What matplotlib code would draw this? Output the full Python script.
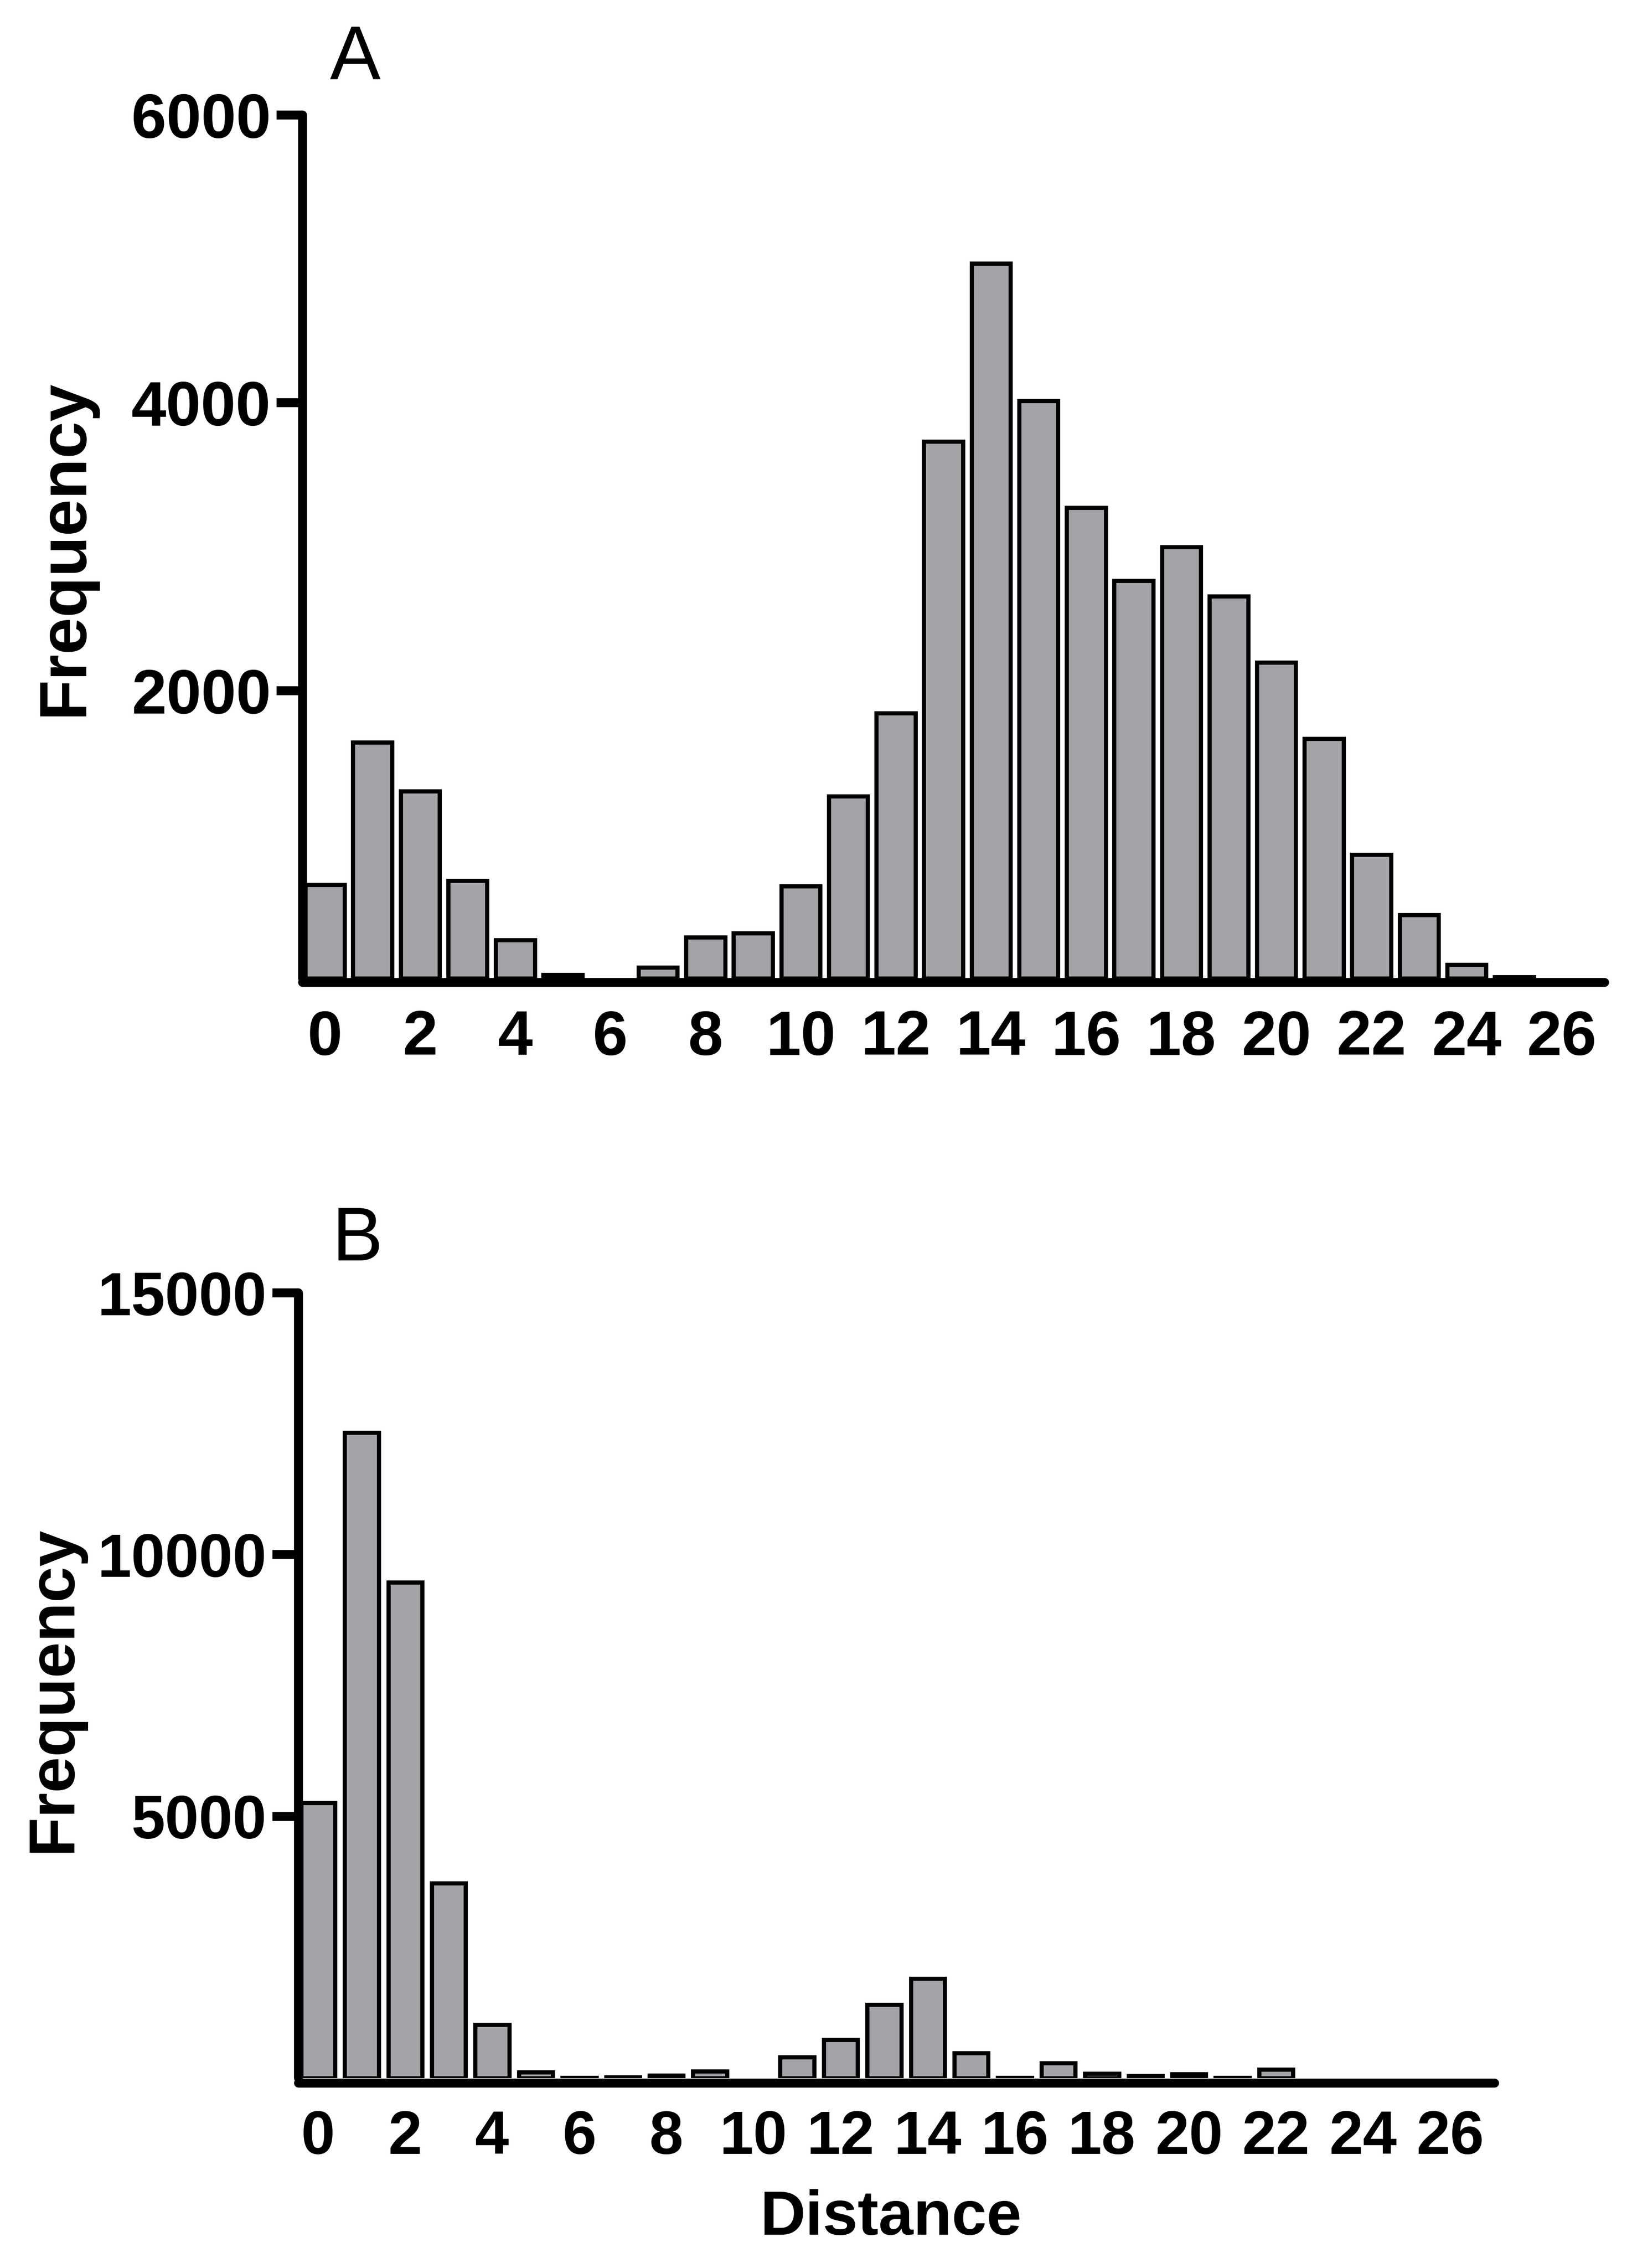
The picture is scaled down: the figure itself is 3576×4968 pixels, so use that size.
import numpy as np
import matplotlib
matplotlib.use('Agg')
import matplotlib.pyplot as plt

plt.rcParams['font.family'] = ['Liberation Sans', 'DejaVu Sans']

# distance bins 0..26
distance = list(range(27))
xticks = list(range(0, 27, 2))

# panel A frequencies
freq_a = [650, 1640, 1300, 680, 265, 25, 0, 75, 285, 315, 640, 1265, 1845,
          3730, 4970, 4015, 3270, 2765, 3000, 2655, 2195, 1665, 860, 440,
          95, 10, 0]
# panel B frequencies
freq_b = [5260, 12330, 9470, 3720, 1020, 110, 5, 20, 55, 130, 0, 400, 730,
          1400, 1900, 480, 10, 285, 85, 45, 80, 5, 165, 0, 0, 0, 0]

bar_color = '#a3a3a8'
W, H = 3576, 4968
fig = plt.figure(figsize=(W / 300, H / 300), dpi=300)


def frac_x(px):
    return px / W


def frac_y(py):
    return 1 - py / H


def draw_bars(ax, freq, width):
    # empty bins get no bar at all
    xs = [d for d, f in zip(distance, freq) if f > 0]
    ys = [f for f in freq if f > 0]
    ax.bar(xs, ys, width=width, color=bar_color, edgecolor='black', linewidth=2.2)


def style_axes(ax, ymax, yticks, xlim, fsize, offset):
    for s in ['top', 'right']:
        ax.spines[s].set_visible(False)
    for s in ['left', 'bottom']:
        ax.spines[s].set_linewidth(4.7)
        ax.spines[s].set_capstyle('round')
    ax.spines['bottom'].set_position(('outward', offset))
    ax.set_xlim(*xlim)
    ax.set_ylim(0, ymax)
    ax.set_yticks(yticks)
    ax.set_xticks(xticks)
    ax.tick_params(axis='y', length=13.7, width=4.7, pad=3, labelsize=fsize)
    ax.tick_params(axis='x', length=0, pad=14, labelsize=fsize)
    for lab in ax.get_xticklabels() + ax.get_yticklabels():
        lab.set_fontweight('bold')


# panel A
axA = fig.add_axes([frac_x(663), frac_y(2143), frac_x(3516 - 663), (2143 - 252) / H])
draw_bars(axA, freq_a, 0.82)
style_axes(axA, 6000, [2000, 4000, 6000], (-0.47, 26.9), 33, 2.2)
fig.text(frac_x(142), frac_y(1200), 'Frequency', rotation=90, ha='center', va='center',
         fontsize=35, fontweight='bold')
fig.text(frac_x(778), frac_y(132), 'A', ha='center', va='center', fontsize=40)

# panel B
axB = fig.add_axes([frac_x(654), frac_y(4552), frac_x(3275 - 654), (4552 - 2832) / H])
draw_bars(axB, freq_b, 0.78)
style_axes(axB, 15000, [5000, 10000, 15000], (-0.45, 27.02), 32, 2.6)
fig.text(frac_x(118), frac_y(3700), 'Frequency', rotation=90, ha='center', va='center',
         fontsize=34, fontweight='bold')
fig.text(frac_x(783), frac_y(2718), 'B', ha='center', va='center', fontsize=40)
fig.text(frac_x(1952), frac_y(4860), 'Distance', ha='center', va='center',
         fontsize=33, fontweight='bold')

fig.savefig('out.png', dpi=300, facecolor='white')
